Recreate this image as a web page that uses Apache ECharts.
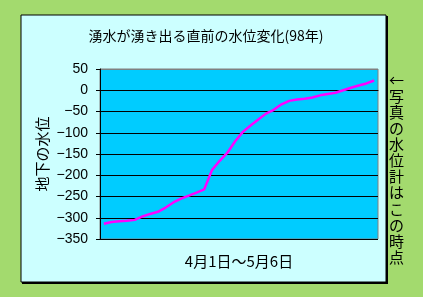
<!DOCTYPE html>
<html>
<head>
<meta charset="utf-8">
<script src="https://cdn.jsdelivr.net/npm/echarts@6/dist/echarts.min.js"></script>
<style>html,body{margin:0;padding:0;background:#a3da6e;}#c{width:423px;height:297px;}</style>
</head>
<body>
<div id="c"></div>
<script>
const titleText = '湧水が湧き出る直前の水位変化(98年)';
const xAxisName = '4月1日～5月6日';
const yAxisName = '地下の水位';
const noteText = '←写真の水位計はこの時点';
const days = [];
for (let d = 1; d <= 30; d++) days.push('4月' + d + '日');
for (let d = 1; d <= 6; d++) days.push('5月' + d + '日');
const waterLevel = [-314, -310, -308, -307, -305, -297, -291, -286, -276, -264,
  -255, -248, -241, -233, -188, -166, -147, -120, -98, -83,
  -69, -55, -46, -33, -25, -22, -20, -17, -12, -9,
  -6, 0, 6, 11, 16, 23];
const yTicks = { min: -350, max: 50, interval: 50 };

const chart = echarts.init(document.getElementById('c'), null, { renderer: 'canvas' });
const jp = '"Noto Sans CJK JP", sans-serif';
chart.setOption({
  backgroundColor: '#a3da6e',
  animation: false,
  title: {
    text: titleText,
    left: 201, top: 24, textAlign: 'center',
    textStyle: { fontFamily: jp, fontSize: 14, fontWeight: 'normal', color: '#000' }
  },
  graphic: [
    { type: 'rect', z: -10, shape: { x: 22, y: 16, width: 366, height: 268 }, style: { fill: '#000' } },
    { type: 'rect', z: -9, shape: { x: 21, y: 15, width: 365, height: 267 }, style: { fill: '#ccffff', stroke: '#000', lineWidth: 1 } },
    { type: 'text', z: 5, left: 389, top: 72,
      style: { text: noteText.split('').join('\n'), font: '15px ' + jp, lineHeight: 16.1, fill: '#000', align: 'center' } }
  ],
  grid: { left: 100, right: 45, top: 69, bottom: 58, show: true, backgroundColor: '#00ccff', borderColor: '#808080', borderWidth: 1 },
  xAxis: {
    type: 'category', data: days, boundaryGap: true,
    name: xAxisName, nameLocation: 'middle', nameGap: 15,
    nameTextStyle: { fontFamily: jp, fontSize: 15, color: '#000' },
    axisLine: { lineStyle: { color: '#000', width: 1 } },
    axisTick: { show: false }, axisLabel: { show: false }, splitLine: { show: false }
  },
  yAxis: {
    type: 'value', min: yTicks.min, max: yTicks.max, interval: yTicks.interval,
    name: yAxisName, nameLocation: 'middle', nameGap: 50, nameRotate: 90, nameMoveOverlap: false,
    nameTextStyle: { fontFamily: jp, fontSize: 15, color: '#000' },
    axisLine: { show: true, lineStyle: { color: '#000', width: 1 } },
    axisTick: { show: true, length: 4, lineStyle: { color: '#000' } },
    axisLabel: { fontFamily: '"Liberation Sans", Arial, sans-serif', fontSize: 14, color: '#000', margin: 12,
      formatter: v => String(v).replace('-', '−') },
    splitLine: { show: true, lineStyle: { color: ['#000','#000','#000','#000','#000','#000','#000','#000','#808080'], width: 1 } }
  },
  series: [{
    type: 'line', data: waterLevel, showSymbol: false, symbol: 'none',
    lineStyle: { color: '#ff00ff', width: 2.5 }, z: 3
  }]
});
</script>
</body>
</html>
